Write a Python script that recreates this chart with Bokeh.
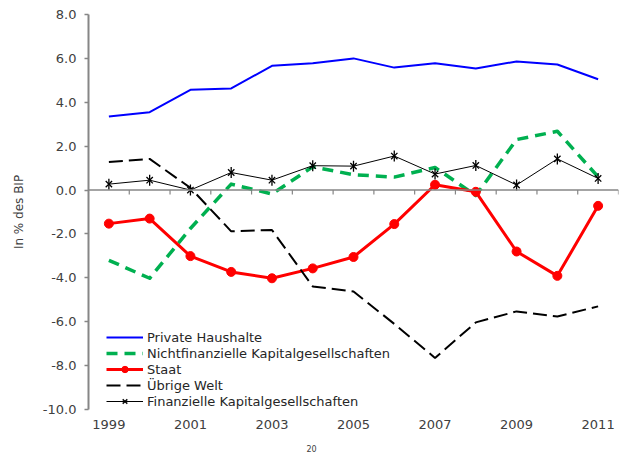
from bokeh.plotting import figure
from bokeh.models import (Range1d, FixedTicker, NumeralTickFormatter, Span, Legend,
                          LegendItem, Title, BasicTickFormatter)
from bokeh.embed import file_html
from bokeh.resources import INLINE
import math

years = [1999, 2000, 2001, 2002, 2003, 2004, 2005, 2006, 2007, 2008, 2009, 2010, 2011]
private = [3.35, 3.55, 4.57, 4.63, 5.66, 5.78, 6.0, 5.58, 5.78, 5.54, 5.86, 5.72, 5.05]
nichtfin = [-3.2, -4.02, -1.75, 0.27, -0.18, 1.06, 0.7, 0.59, 1.03, -0.25, 2.3, 2.68, 0.6]
staat = [-1.53, -1.3, -3.01, -3.73, -4.02, -3.57, -3.05, -1.55, 0.24, -0.08, -2.8, -3.91, -0.72]
uebrige = [1.28, 1.42, 0.1, -1.88, -1.82, -4.39, -4.62, -6.1, -7.65, -6.03, -5.53, -5.76, -5.3]
finanz = [0.27, 0.45, 0.0, 0.8, 0.45, 1.11, 1.09, 1.55, 0.73, 1.12, 0.23, 1.42, 0.53]

y_ticks = [-10, -8, -6, -4, -2, 0, 2, 4, 6, 8]
x_label_years = [1999, 2001, 2003, 2005, 2007, 2009, 2011]

FONT = "DejaVu Sans"
TXT = "#404040"

p = figure(width=619, height=463, output_backend="svg", toolbar_location=None,
           x_range=Range1d(years[0] - 0.5, years[-1] + 0.5), y_range=Range1d(-10, 8),
           min_border_left=88, min_border_top=14, min_border_right=1, min_border_bottom=53)
p.outline_line_color = None
p.grid.visible = False
p.background_fill_color = "white"

# y axis
ya = p.yaxis[0]
ya.ticker = FixedTicker(ticks=y_ticks)
ya.formatter = NumeralTickFormatter(format="0.0")
ya.axis_line_color = "#868686"
ya.axis_line_width = 2
ya.major_tick_line_color = "#868686"
ya.major_tick_line_width = 1.5
ya.major_tick_out = 4
ya.major_tick_in = 0
ya.minor_tick_line_color = None
ya.major_label_text_font = FONT
ya.major_label_text_font_size = "13px"
ya.major_label_text_color = TXT
ya.major_label_standoff = 8
ya.axis_label = "In % des BIP"
ya.axis_label_text_font = FONT
ya.axis_label_text_font_size = "12px"
ya.axis_label_text_font_style = "normal"
ya.axis_label_text_color = TXT
ya.axis_label_standoff = 14

# x axis (labels only at bottom)
xa = p.xaxis[0]
xa.ticker = FixedTicker(ticks=x_label_years)
xa.formatter = BasicTickFormatter(use_scientific=False)
xa.axis_line_color = None
xa.major_tick_line_color = None
xa.minor_tick_line_color = None
xa.major_label_text_font = FONT
xa.major_label_text_font_size = "13px"
xa.major_label_text_color = TXT
xa.major_label_standoff = 4

# zero line with tick marks between categories
p.add_layout(Span(location=0, dimension="width", line_color="#868686", line_width=1.5))
tick_x = [y + 0.5 for y in years]
p.segment(x0=tick_x, y0=[0] * len(tick_x), x1=tick_x, y1=[-0.2] * len(tick_x),
          line_color="#868686", line_width=1.2)

r_priv = p.line(years, private, line_color="#0000FF", line_width=2)
r_nf = p.line(years, nichtfin, line_color="#00B050", line_width=3.5, line_dash="11 7",
              line_join="round")
r_st = p.line(years, staat, line_color="#FF0000", line_width=3, line_join="round")
r_st_m = p.scatter(years, staat, marker="circle", size=9, fill_color="#FF0000",
                   line_color="#FF0000")
r_ue = p.line(years, uebrige, line_color="black", line_width=2, line_dash="14 6")
r_fi = p.line(years, finanz, line_color="black", line_width=1)
r_fi_x = p.scatter(years, finanz, marker="x", size=9, line_color="black", line_width=1.3)
r_fi_v = p.scatter(years, finanz, marker="dash", size=11, angle=math.pi / 2,
                   line_color="black", line_width=1.3)

legend = Legend(items=[
    LegendItem(label="Private Haushalte", renderers=[r_priv]),
    LegendItem(label="Nichtfinanzielle Kapitalgesellschaften", renderers=[r_nf]),
    LegendItem(label="Staat", renderers=[r_st, r_st_m]),
    LegendItem(label="Übrige Welt", renderers=[r_ue]),
    LegendItem(label="Finanzielle Kapitalgesellschaften", renderers=[r_fi, r_fi_x, r_fi_v]),
], location=(18, 0))
legend.background_fill_alpha = 0
legend.border_line_color = None
legend.margin = 0
legend.padding = 0
legend.spacing = 0
legend.glyph_width = 37
legend.glyph_height = 16
legend.label_height = 16
legend.label_standoff = 4
legend.label_text_font = FONT
legend.label_text_font_size = "13px"
legend.label_text_color = "#262626"
p.add_layout(legend)

p.add_layout(Title(text="20", align="left", offset=218, text_font_size="8px",
                   text_font=FONT, text_font_style="normal", text_color=TXT, standoff=23),
             "below")

open("out.html", "w").write(file_html(p, INLINE))
